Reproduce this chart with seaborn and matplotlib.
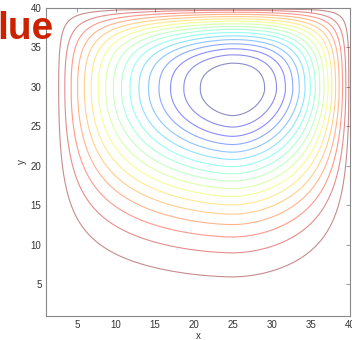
import numpy as np
import matplotlib
matplotlib.use("Agg")
import matplotlib.pyplot as plt
import seaborn as sns

# grid (MATLAB-style 40x40 matrix indices)
x_nodes = np.arange(1, 41)
y_nodes = np.arange(1, 41)
# vortex centre
vortex_centre = [24.9, 29.7]
# axis profiles: (reach to zero, exponent)
left_profile = [23.0, 1.68]
right_profile = [15.3, 2.2]
top_profile = [10.5, 2.5]
bottom_scale = 9.9           # gaussian width below the centre
lower_right_norm = 1.7       # rounder lower-right corner
n_levels = 17
n_divisions = 18
x_ticks = [5, 10, 15, 20, 25, 30, 35, 40]
y_ticks = [5, 10, 15, 20, 25, 30, 35, 40]
overlay_text = "lue"

sns.set_style("white")
plt.rcParams['font.family'] = ['Liberation Sans', 'DejaVu Sans']

X, Y = np.meshgrid(np.linspace(1, 40, 157), np.linspace(1, 40, 157))
xc, yc = vortex_centre


def rho_from_profile(d, reach, q):
    p = 1.0 - np.clip(d / reach, 0, 1) ** q
    p = np.clip(p, 1e-12, 1.0)
    return np.sqrt(-2.0 * np.log(p))


dx = X - xc
dy = Y - yc
rx = np.where(dx < 0, rho_from_profile(-dx, *left_profile), rho_from_profile(dx, *right_profile))
ry = np.where(dy < 0, np.abs(dy) / bottom_scale, rho_from_profile(dy, *top_profile))
pn = np.where((dx > 0) & (dy < 0), lower_right_norm, 2.0)
rho = (rx ** pn + ry ** pn) ** (1.0 / pn)
psi = -np.exp(-0.5 * rho ** 2)
psi[:, 0] = psi[:, -1] = psi[0, :] = psi[-1, :] = 0.0

levels = -1.0 + np.arange(1, n_levels + 1) / n_divisions

fig = plt.figure(figsize=(3.52, 3.40), dpi=100)
ax = fig.add_axes([45.6 / 352, 24.5 / 340, (350.5 - 45.6) / 352, (315.5 - 8) / 340])
jet = plt.get_cmap('jet')
cols = sns.color_palette([jet(v) for v in np.linspace(0, 1, n_levels)])
ax.contour(X, Y, psi, levels=levels, colors=cols, linewidths=0.8, alpha=0.45)

ax.set_xlim(1, 40)
ax.set_ylim(1, 40)
ax.set_xticks(x_ticks)
ax.set_yticks(y_ticks)
ax.tick_params(direction='in', length=3, width=0.6, colors='#888888', labelcolor='#333333',
               labelsize=7, top=True, right=True, pad=3)
for sp in ax.spines.values():
    sp.set_color('#888888')
    sp.set_linewidth(0.8)
ax.set_xlabel('x', fontsize=7, color='#333333', labelpad=1)
ax.set_ylabel('y', fontsize=7, color='#333333', labelpad=3)

fig.text(-0.009, (340 - 39) / 340, overlay_text, fontsize=28, fontweight='bold',
         color='#cc2200', va='baseline', ha='left', zorder=10)

fig.savefig('out.png', dpi=100)
